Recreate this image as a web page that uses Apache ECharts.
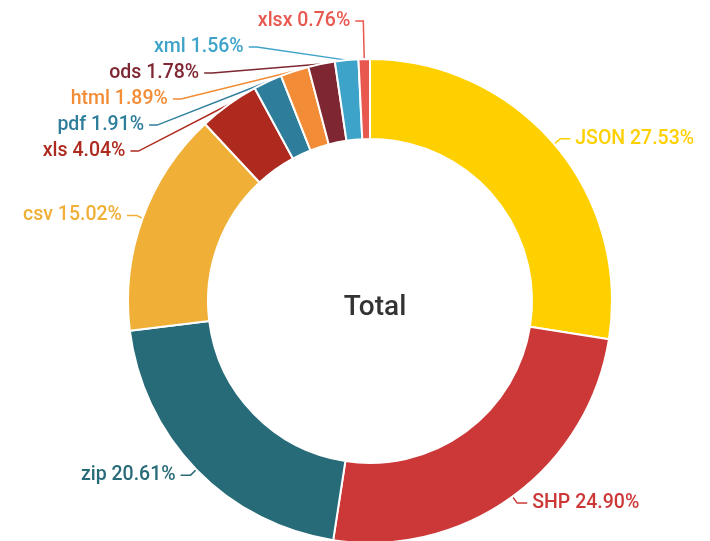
<!DOCTYPE html>
<html>
<head>
<meta charset="utf-8">
<script src="https://cdn.jsdelivr.net/npm/echarts@6/dist/echarts.min.js"></script>
<style>
  html, body { margin: 0; padding: 0; background: #fff; }
  #chart { width: 710px; height: 541px; }
</style>
</head>
<body>
<div id="chart"></div>
<script>
  // file formats, share in percent
  var formats = ['JSON', 'SHP', 'zip', 'csv', 'xls', 'pdf', 'html', 'ods', 'xml', 'xlsx'];
  var shares = [27.53, 24.90, 20.61, 15.02, 4.04, 1.91, 1.89, 1.78, 1.56, 0.76];
  var colors = ['#FFD000', '#CC3838', '#286B78', '#F0AF36', '#AE2A1F', '#2E7E9B', '#F28C36', '#7E2631', '#3EA3C9', '#E8584E'];

  var data = [];
  for (var i = 0; i < formats.length; i++) {
    // thin slices at the top get a longer leader line
    var small = shares[i] < 5;
    data.push({
      name: formats[i],
      value: shares[i],
      itemStyle: {color: colors[i]},
      label: {color: colors[i]},
      labelLine: {
        length: small ? 38 : 8,
        length2: small ? 8 : 10,
        lineStyle: {color: colors[i]}
      }
    });
  }

  var myChart = echarts.init(document.getElementById('chart'));
  myChart.setOption({
    animation: false,
    title: {
      text: 'Total',
      left: 370,
      top: 303,
      textAlign: 'center',
      textVerticalAlign: 'middle',
      textStyle: {
        fontFamily: 'Roboto',
        fontSize: 28,
        fontWeight: 500,
        color: '#333'
      }
    },
    series: [{
      type: 'pie',
      center: [370, 301],
      radius: [162, 242],
      startAngle: 90,
      clockwise: true,
      itemStyle: {
        borderColor: '#fff',
        borderWidth: 2
      },
      label: {
        show: true,
        formatter: function (p) {
          return p.name + ' ' + p.value.toFixed(2) + '%';
        },
        fontFamily: 'Roboto',
        fontSize: 19.5,
        fontWeight: 500,
        lineHeight: 24,
        overflow: 'none'
      },
      labelLine: {
        show: true,
        lineStyle: {width: 1.5}
      },
      data: data
    }]
  });
</script>
</body>
</html>
